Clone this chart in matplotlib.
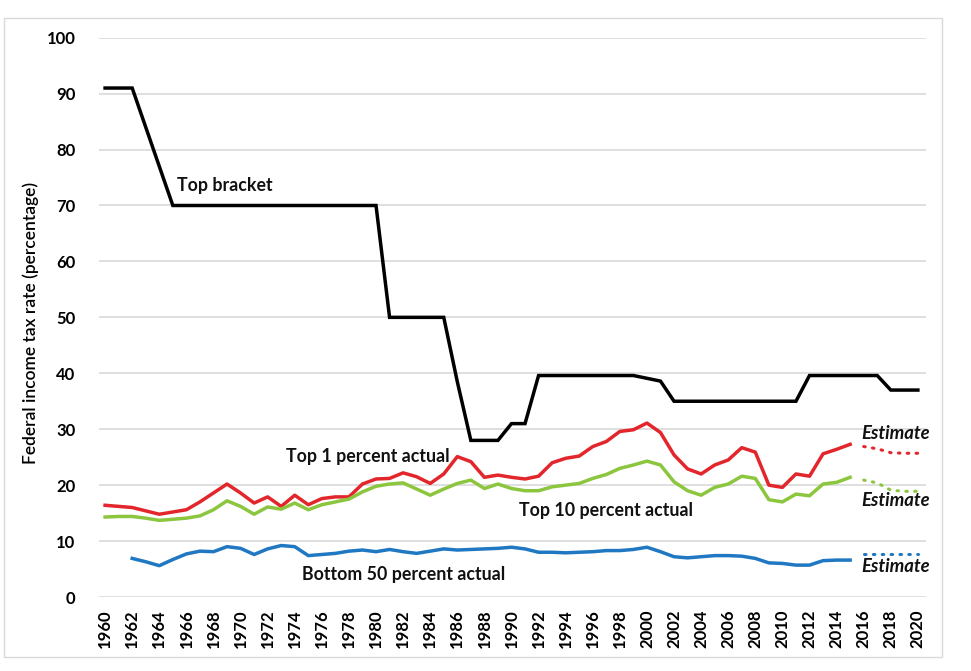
import matplotlib
matplotlib.use("Agg")
import matplotlib.pyplot as plt
from matplotlib.patches import Rectangle
import numpy as np

plt.rcParams['font.family'] = ['Lato', 'DejaVu Sans']

years_all = list(range(1960, 2021))
years_actual = list(range(1960, 2016))
years_bottom = list(range(1962, 2016))
years_est = list(range(2016, 2021))

top_bracket = [91, 91, 91, 84, 77,
               70, 70, 70, 70, 70, 70, 70, 70, 70, 70, 70, 70, 70, 70, 70, 70,
               50, 50, 50, 50, 50, 38.5, 28, 28, 28, 31, 31,
               39.6, 39.6, 39.6, 39.6, 39.6, 39.6, 39.6, 39.6, 39.1, 38.6,
               35, 35, 35, 35, 35, 35, 35, 35, 35, 35,
               39.6, 39.6, 39.6, 39.6, 39.6, 39.6, 37, 37, 37]

top1_actual = [16.4, 16.2, 16.0, 15.4, 14.8, 15.2, 15.6, 17.0, 18.6, 20.2,
               18.6, 16.8, 17.9, 16.2, 18.2, 16.5, 17.6, 17.9, 17.9, 20.2,
               21.1, 21.2, 22.2, 21.5, 20.3, 22.0, 25.1, 24.2, 21.4, 21.8,
               21.4, 21.1, 21.6, 24.0, 24.8, 25.2, 26.9, 27.8, 29.6, 29.9,
               31.1, 29.4, 25.4, 22.9, 22.0, 23.6, 24.5, 26.7, 25.9, 20.0,
               19.6, 22.0, 21.6, 25.6, 26.4, 27.3]
top1_est = [26.9, 26.5, 25.8, 25.7, 25.7]

top10_actual = [14.3, 14.4, 14.4, 14.1, 13.7, 13.9, 14.1, 14.5, 15.6, 17.2,
                16.2, 14.8, 16.1, 15.7, 16.8, 15.6, 16.5, 17.0, 17.5, 18.8,
                19.8, 20.2, 20.4, 19.3, 18.2, 19.3, 20.3, 20.9, 19.4, 20.2,
                19.4, 19.0, 19.0, 19.7, 20.0, 20.3, 21.2, 21.9, 23.0, 23.6,
                24.3, 23.6, 20.6, 19.0, 18.2, 19.6, 20.2, 21.6, 21.2, 17.4,
                17.0, 18.4, 18.1, 20.2, 20.5, 21.4]
top10_est = [20.9, 20.4, 19.1, 18.9, 18.9]

bottom50_actual = [6.9, 6.3, 5.6, 6.7, 7.7, 8.2, 8.1, 9.0,
                   8.7, 7.6, 8.6, 9.2, 9.0, 7.4, 7.6, 7.8, 8.2, 8.4,
                   8.1, 8.5, 8.1, 7.8, 8.2, 8.6, 8.4, 8.5, 8.6, 8.7,
                   8.9, 8.6, 8.0, 8.0, 7.9, 8.0, 8.1, 8.3, 8.3, 8.5,
                   8.9, 8.1, 7.2, 7.0, 7.2, 7.4, 7.4, 7.3, 6.9, 6.1,
                   6.0, 5.7, 5.7, 6.5, 6.6, 6.6]
bottom50_est = [7.7, 7.7, 7.7, 7.7, 7.7]

xtick_years = list(range(1960, 2021, 2))
ytick_vals = list(range(0, 101, 10))

RED = '#e3262b'
GREEN = '#8cc63f'
BLUE = '#1f78c1'
BLACK = '#000000'

fig = plt.figure(figsize=(9.71, 6.71), dpi=100)
fig.patch.set_facecolor('white')
fig.add_artist(Rectangle((4/971, 1-657/671), (942-4)/971, (657-18)/671,
                         transform=fig.transFigure, fill=False,
                         edgecolor='#d9d9d9', linewidth=1.0))

ax = fig.add_axes([99/971, 1-597/671, (926-99)/971, (597-37.7)/671])

lw = 2.5
ax.plot(years_all, top_bracket, color=BLACK, lw=lw, solid_joinstyle='miter', zorder=5)
ax.plot(years_actual, top1_actual, color=RED, lw=lw, zorder=5)
ax.plot(years_actual, top10_actual, color=GREEN, lw=lw, zorder=5)
ax.plot(years_bottom, bottom50_actual, color=BLUE, lw=lw, zorder=5)

dot = (0, (0.5, 2.4))
for vals, c in [(top1_est, RED), (top10_est, GREEN), (bottom50_est, BLUE)]:
    ax.plot(years_est, vals, color=c, lw=2.2, linestyle=dot,
            dash_capstyle='round', zorder=5)

ax.set_xlim(1959.55, 2020.6)
ax.set_ylim(0, 100)
ax.set_yticks(ytick_vals)
ax.set_xticks(xtick_years)
ax.set_xticklabels([str(y) for y in xtick_years], rotation=90,
                   fontweight='bold', fontsize=12)
ax.set_yticklabels([str(v) for v in ytick_vals], fontweight='bold', fontsize=12)
ax.tick_params(axis='y', length=0, pad=17)
ax.tick_params(axis='x', length=0, pad=9)
ax.grid(axis='y', color='#d9d9d9', lw=1.2)
ax.grid(axis='x', visible=False)
ax.set_axisbelow(True)
for s in ax.spines.values():
    s.set_visible(False)

ax.set_ylabel('Federal income tax rate (percentage)', fontsize=12.5,
              fontweight='semibold', labelpad=10)
ax.yaxis.set_label_coords(-(99-39)/827, 0.49)

lab_kw = dict(fontsize=12.8, fontweight='bold', ha='center', va='center',
              color='#111111')
ax.text(1968.86, 73.5, 'Top bracket', **lab_kw)
ax.text(1979.37, 25.2, 'Top 1 percent actual', **lab_kw)
ax.text(1996.97, 15.4, 'Top 10 percent actual', **lab_kw)
ax.text(1982.07, 4.1, 'Bottom 50 percent actual', **lab_kw)
est_kw = dict(fontsize=13.3, fontweight='bold', fontstyle='italic',
              ha='center', va='center', color='#111111')
ax.text(2018.35, 29.3, 'Estimate', **est_kw)
ax.text(2018.35, 17.2, 'Estimate', **est_kw)
ax.text(2018.35, 5.4, 'Estimate', **est_kw)

fig.savefig('out.png', dpi=100, facecolor='white')
